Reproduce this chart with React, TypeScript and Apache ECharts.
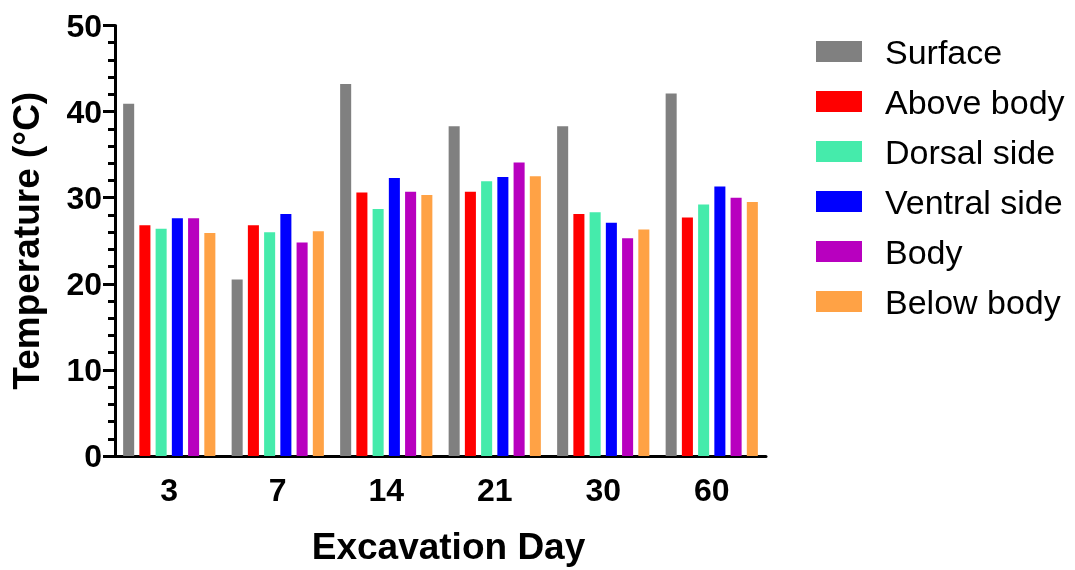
import React, { useEffect, useRef } from "react";
import * as echarts from "echarts";

const days = ["3", "7", "14", "21", "30", "60"];
const seriesNames = ["Surface", "Above body", "Dorsal side", "Ventral side", "Body", "Below body"];
const surface = [40.9, 20.5, 43.2, 38.3, 38.3, 42.1];
const aboveBody = [26.8, 26.8, 30.6, 30.7, 28.1, 27.7];
const dorsalSide = [26.4, 26.0, 28.7, 31.9, 28.3, 29.2];
const ventralSide = [27.6, 28.1, 32.3, 32.4, 27.1, 31.3];
const body = [27.6, 24.8, 30.7, 34.1, 25.3, 30.0];
const belowBody = [25.9, 26.1, 30.3, 32.5, 26.3, 29.5];
const colors = ["#808080", "#ff0000", "#45ebab", "#0000ff", "#b800bf", "#ffa245"];

const FONT = "'Liberation Sans', Arial, Helvetica, sans-serif";

export default function App() {
  const ref = useRef<HTMLDivElement>(null);
  useEffect(() => {
    if (!ref.current) return;
    const chart = echarts.init(ref.current, null, { renderer: "svg" });
    const values = [surface, aboveBody, dorsalSide, ventralSide, body, belowBody];
    chart.setOption({
      animation: false,
      textStyle: { fontFamily: FONT },
      grid: { left: 115, right: 309, top: 25.5, bottom: 112.5, containLabel: false },
      legend: {
        orient: "vertical",
        left: 811,
        top: 26,
        itemWidth: 46,
        itemHeight: 21,
        itemGap: 9,
        icon: "rect",
        textStyle: { fontFamily: FONT, fontSize: 34, color: "#000", lineHeight: 41, padding: [0, 0, 0, 18] },
        data: seriesNames,
      },
      xAxis: {
        type: "category",
        data: days,
        name: "Excavation Day",
        nameLocation: "middle",
        nameGap: 72,
        nameTextStyle: { fontFamily: FONT, fontSize: 37, fontWeight: "bold", color: "#000", padding: [0, 0, 0, 16] },
        axisLine: { lineStyle: { color: "#000", width: 3 } },
        axisTick: { alignWithLabel: true, length: 9, lineStyle: { color: "#000", width: 3 } },
        axisLabel: { fontFamily: FONT, fontSize: 32, fontWeight: "bold", color: "#000", margin: 18 },
      },
      yAxis: {
        type: "value",
        min: 0,
        max: 50,
        interval: 10,
        name: "Temperature (°C)",
        nameLocation: "middle",
        nameGap: 70,
        nameRotate: 90,
        nameTextStyle: { fontFamily: FONT, fontSize: 37, fontWeight: "bold", color: "#000" },
        axisLine: { show: true, lineStyle: { color: "#000", width: 3 } },
        axisTick: { show: true, length: 12, lineStyle: { color: "#000", width: 3 } },
        minorTick: { show: true, splitNumber: 5, length: 7, lineStyle: { color: "#000", width: 3 } },
        splitLine: { show: false },
        axisLabel: { fontFamily: FONT, fontSize: 32, fontWeight: "bold", color: "#000", margin: 13 },
      },
      series: seriesNames.map((name, i) => ({
        name,
        type: "bar",
        data: values[i],
        barCategoryGap: "15%",
        barGap: "47%",
        itemStyle: { color: colors[i] },
      })),
    });
    return () => chart.dispose();
  }, []);
  return <div ref={ref} style={{ position: "fixed", left: 0, top: 0, width: 1075, height: 570 }} />;
}
